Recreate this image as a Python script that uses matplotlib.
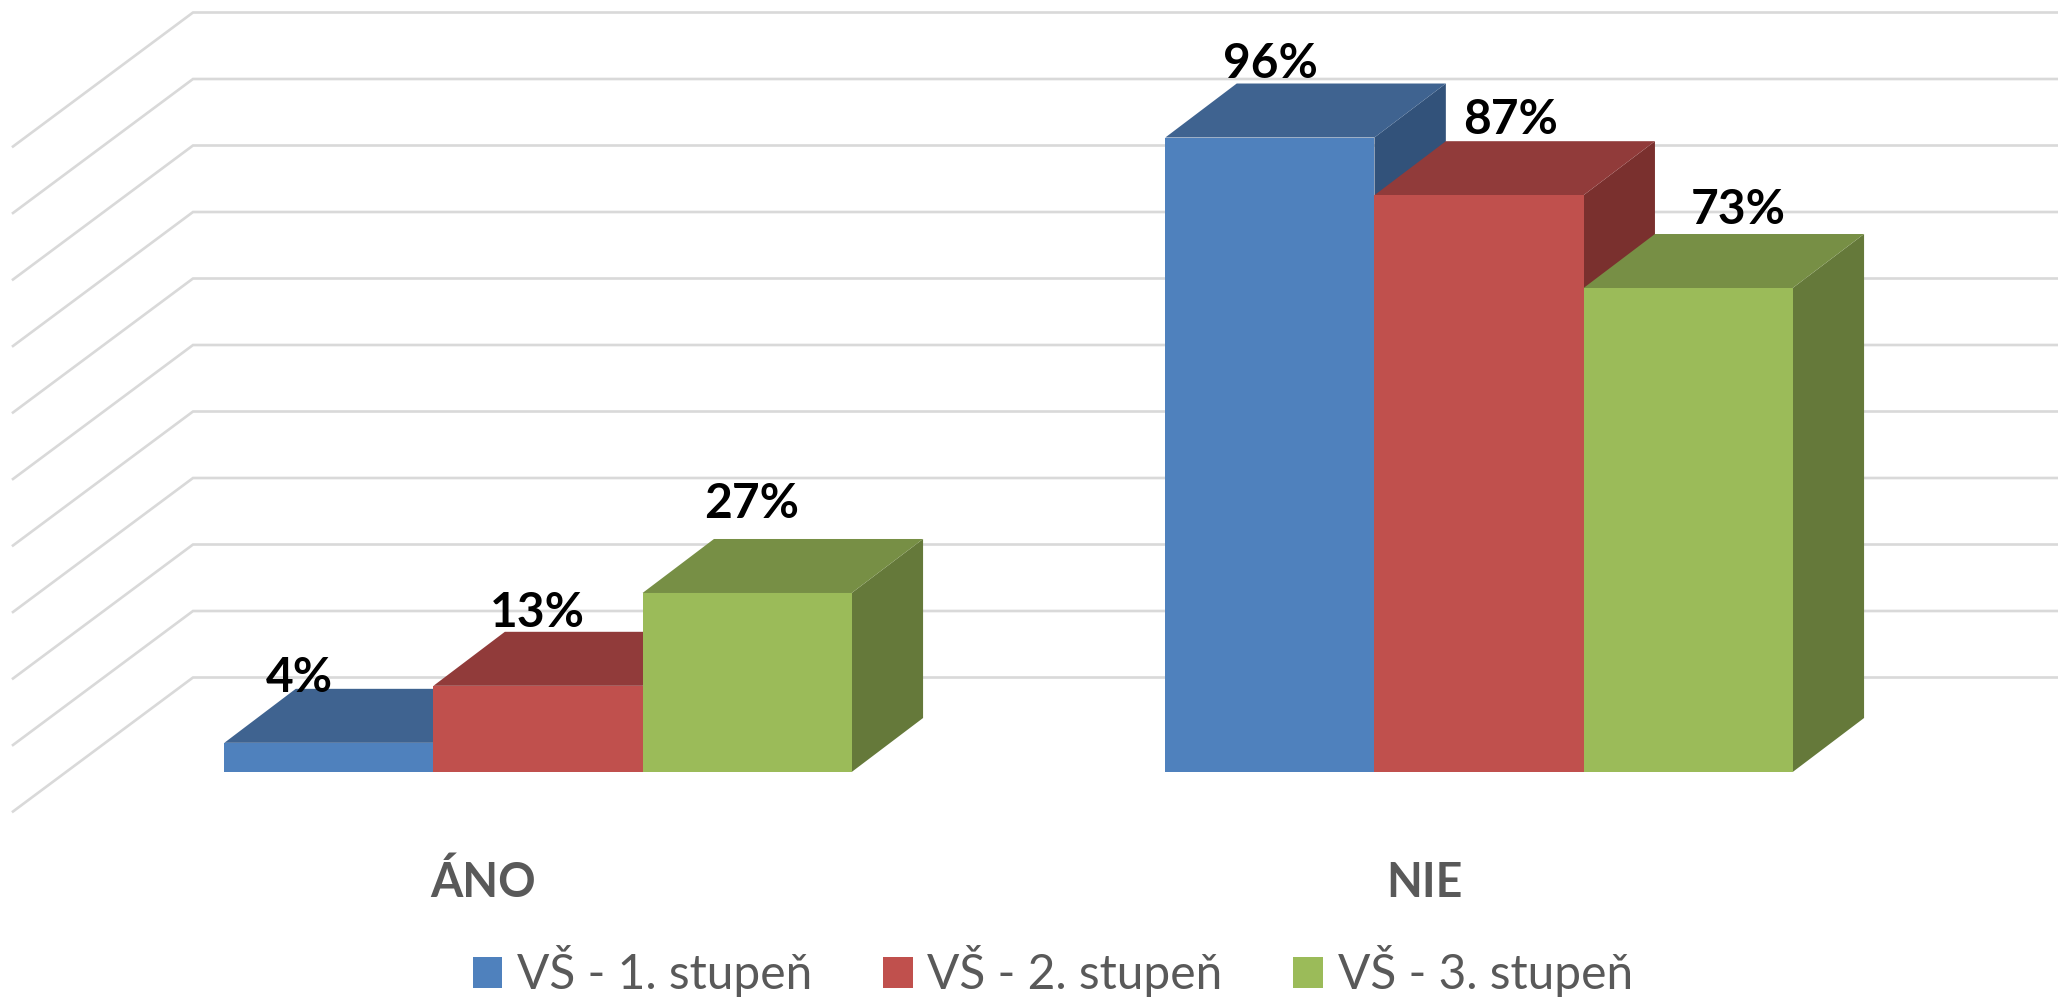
import matplotlib
matplotlib.use("Agg")
import matplotlib.pyplot as plt
from matplotlib.patches import Patch, Polygon

plt.rcParams['font.family'] = ['Lato', 'DejaVu Sans']

categories = ["ÁNO", "NIE"]
series_names = ["VŠ - 1. stupeň", "VŠ - 2. stupeň", "VŠ - 3. stupeň"]
values = [
    [4.4, 95.7],
    [13, 87],
    [27, 73],
]
grid_values = [0, 10, 20, 30, 40, 50, 60, 70, 80, 90, 100]

front_colors = ["#4F81BD", "#C0504D", "#9BBB59"]
top_colors = ["#3F6390", "#913B3A", "#778F45"]
side_colors = ["#32527A", "#7A302E", "#65793A"]

# scale of the original picture
W, H = 2058, 998
PX_PER_CAT = 941.0
PX_PER_PCT = 6.63
X0_PX, Y0_PX = 538.0, 772.0


def px_x(dx):
    return dx / PX_PER_CAT


def px_y(dy):
    return dy / PX_PER_PCT


fig = plt.figure(figsize=(W / 100, H / 100), dpi=100)
ax = fig.add_axes([0, 0, 1, 1])
ax.set_xlim(-X0_PX / PX_PER_CAT, (W - X0_PX) / PX_PER_CAT)
ax.set_ylim((Y0_PX - H) / PX_PER_PCT, Y0_PX / PX_PER_PCT)
ax.axis('off')

# back wall grid and the floor-side diagonals
wall_x, wall_y = px_x(193 - X0_PX), px_y(Y0_PX - 677.5)
front_x, front_y = px_x(13 - X0_PX), px_y(Y0_PX - 811.5)
for g in grid_values:
    ax.plot([front_x, wall_x, ax.get_xlim()[1]],
            [g * 665 / 663 + front_y, g * 665 / 663 + wall_y, g * 665 / 663 + wall_y],
            color="#D9D9D9", lw=1.9, zorder=1, solid_joinstyle='miter')

# 3D bars, painted left to right
bar_w = 1 / 4.5
depth_x, depth_y = px_x(71.4), px_y(54)
z = 2
for c in range(len(categories)):
    for s in range(len(series_names)):
        left = c + (s - 1.5) * bar_w
        right = left + bar_w
        v = values[s][c]
        ax.add_patch(Polygon([(right, 0), (right + depth_x, depth_y),
                              (right + depth_x, v + depth_y), (right, v)],
                             fc=side_colors[s], ec='none', zorder=z))
        ax.add_patch(Polygon([(left, v), (right, v),
                              (right + depth_x, v + depth_y), (left + depth_x, v + depth_y)],
                             fc=top_colors[s], ec='none', zorder=z))
        ax.add_patch(Polygon([(left, 0), (right, 0), (right, v), (left, v)],
                             fc=front_colors[s], ec='none', zorder=z))
        z += 1

# value labels, offsets in picture pixels from the top of each bar's front face
label_dx = [[-29, 1], [-1, 32], [5, 50]]
label_dy = [[51, 60], [59, 61], [75, 64]]
for s in range(len(series_names)):
    for c in range(len(categories)):
        center = c + (s - 1) * bar_w
        ax.annotate(f"{round(values[s][c])}%", (center, values[s][c]),
                    xytext=(label_dx[s][c] * 0.72, label_dy[s][c] * 0.72),
                    textcoords='offset points', ha='center', va='baseline',
                    fontsize=34.5, fontweight='bold', color='black', zorder=20)

# category labels sit under the floor's front edge
for c, name in enumerate(categories):
    ax.text(c + px_x(-55), px_y(Y0_PX - 897), name, ha='center', va='baseline',
            fontsize=33.5, fontweight='bold', color="#595959")

handles = [Patch(fc=col, ec='none', label=n) for col, n in zip(front_colors, series_names)]
ax.legend(handles=handles, ncol=3, frameon=False, loc='lower center',
          bbox_to_anchor=(0.5115, -0.004), borderaxespad=0, borderpad=0.1,
          fontsize=34.5, labelcolor="#595959", handlelength=0.62, handleheight=0.62,
          handletextpad=0.31, columnspacing=1.47)

fig.savefig("out.png", dpi=100)
